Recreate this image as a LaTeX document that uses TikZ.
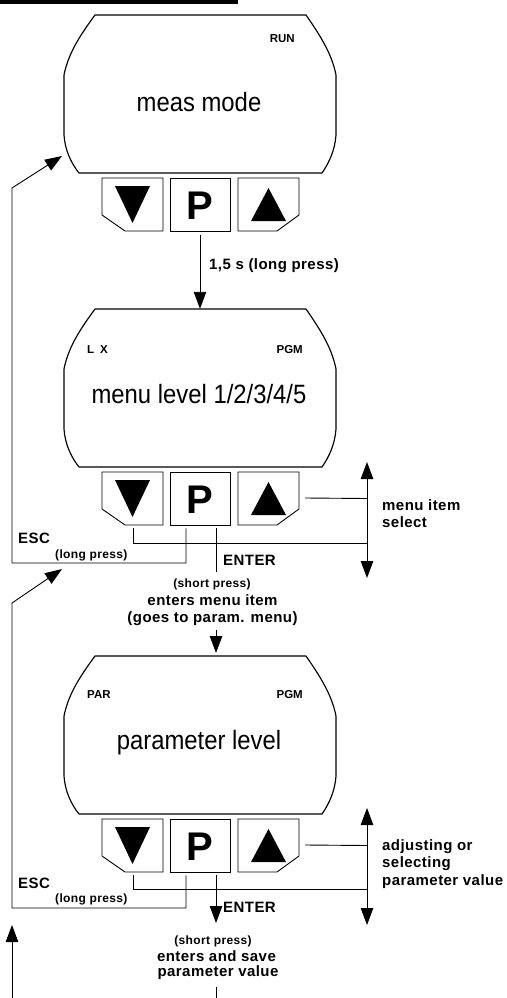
\documentclass[tikz,border=0pt]{standalone}
\usepackage{fontspec}
\setmainfont{Liberation Sans}
\newfontfamily\lblfam[LetterSpace=3]{Liberation Sans}
\newfontfamily\narrowfam[FakeStretch=0.9]{Liberation Sans}
\usetikzlibrary{arrows.meta,calc}
\tikzset{
  ln/.style={line width=0.9pt},
  tipA/.tip={Triangle[length=17pt,width=12.5pt]},
  arr/.style={ln,-tipA},
  dbl/.style={ln,tipA-tipA},
  disp/.style={line width=1.15pt,line join=round},
  btnbox/.style={draw=none,inner sep=0pt,minimum width=61pt,minimum height=53pt},
  bigtxt/.style={font=\narrowfam\fontsize{26.5}{28}\selectfont,anchor=base,inner sep=0pt},
  tag/.style={font=\fontsize{11.5}{13}\selectfont\bfseries,inner sep=0pt},
  lbl/.style={font=\lblfam\fontsize{15}{17.5}\selectfont\bfseries,inner sep=0pt},
  sml/.style={font=\lblfam\fontsize{12}{14}\selectfont\bfseries,inner sep=0pt},
  pkey/.style={font=\fontsize{40}{40}\selectfont\bfseries,inner sep=0pt},
}
\newcommand\dunit[4]{% #1 prefix, #2 vertical offset, #3 main text, #4 main baseline
\begin{scope}[shift={(0,#2)}]
  \node[draw=none,inner sep=0pt,minimum width=272pt,minimum height=158pt] (#1box) at (200,94) {};
  \draw[disp] (95,15) .. controls (78,38) and (68,55) .. (64,75) -- (64,135)
     .. controls (65,150) and (71,163) .. (79,173) -- (322,173)
     .. controls (329,163) and (335,150) .. (336,135) -- (336,75)
     .. controls (332,55) and (322,38) .. (306,15) -- cycle;
  \node[bigtxt] (#1main) at (199,#4) {#3};
  \node[btnbox] (#1dn) at (132.5,204.5) {};
  \node[btnbox,draw,ln,minimum width=60pt] (#1p) at (200,204.5) {};
  \node[btnbox] (#1up) at (268.5,204.5) {};
  \draw[ln] (102,178) -- (163,178) -- (163,231) -- (125,231) -- (102,215) -- cycle;
  \draw[ln] (238,178) -- (299,178) -- (299,215) -- (277,231) -- (238,231) -- cycle;
  \fill (115,186) -- (150,186) -- (132.5,223) -- cycle;
  \fill (251,221) -- (286,221) -- (268.5,188) -- cycle;
  \node[pkey] (#1pl) at (200,205.5) {P};
\end{scope}}
\begin{document}
\begin{tikzpicture}[x=1pt,y=-1pt]
\useasboundingbox (0,0) rectangle (506,998);
\fill (0,0) rectangle (238,4);

% three display units
\dunit{a}{0}{meas mode}{111}
\dunit{b}{294}{menu level 1/2/3/4/5}{109}
\dunit{c}{641}{parameter level}{108}

% tags
\node[tag,anchor=base east] (arun) at (295,43) {RUN};
\node[tag,anchor=base west] (blx) at (87,353) {L\hspace{6pt}X};
\node[tag,anchor=base east] (bpgm) at (303,353) {PGM};
\node[tag,anchor=base west] (cpar) at (87,698) {PAR};
\node[tag,anchor=base east] (cpgm) at (303,698) {PGM};

% meas -> menu
\draw[arr] ($(ap.south)+(0,4)$) -- (bbox.north);
\node[lbl,anchor=west] (along) at (209,266) {1,5 s (long press)};

% ---- menu level connectors
\coordinate (bvt) at (367,462);
\coordinate (bvb) at (367,578);
\draw[dbl] (bvt) -- (bvb);
\draw[ln] ($(bup.east)+(6,-0.5)$) -- (bvt |- bup.east);
\draw[ln] ($(bdn.south)+(0.5,3)$) -- (133,543) -- (bvt |- 0,543);
\coordinate (aesc) at (62,156);
\draw[arr] ($(bp.south)+(-14,3)$) -- (186,563) -- (12,563) -- (12,188) -- (aesc);
\draw[ln] ($(bp.south)+(16,3)$) -- (216,572);
\node[lbl,anchor=west] (bsel) at (382,515.5) {\begin{tabular}{@{}l@{}}menu item\\select\end{tabular}};
\node[lbl,anchor=west] (besc) at (18,538) {ESC};
\node[sml,anchor=west] (blp) at (55,555) {(long press)};
\node[lbl,anchor=west] (benter) at (223,560) {ENTER};
\node[sml] (bsp) at (212,584) {(short press)};
\node[lbl] (bent1) at (212.5,600) {enters menu item};
\node[lbl] (bent2) at (212.5,619) {(goes to param. menu)};
\coordinate (bgo) at (216,630);
\draw[arr] (bgo) -- (bgo |- 0,653);

% ---- parameter level connectors
\coordinate (cvt) at (367,808);
\coordinate (cvb) at (367,925);
\draw[dbl] (cvt) -- (cvb);
\draw[ln] ($(cup.east)+(6,-0.5)$) -- (cvt |- cup.east);
\draw[ln] ($(cdn.south)+(0.5,3)$) -- (133,889) -- (cvt |- 0,889);
\coordinate (besc2) at (62,569);
\draw[arr] ($(cp.south)+(-14,3)$) -- (186,908) -- (12,908) -- (12,603) -- (besc2);
\draw[arr] ($(cp.south)+(16,3)$) -- (216,923);
\node[lbl,anchor=west] (csel) at (382,864) {\begin{tabular}{@{}l@{}}adjusting or\\selecting\\parameter value\end{tabular}};
\node[lbl,anchor=west] (cesc) at (18,883) {ESC};
\node[sml,anchor=west] (clp) at (55,899) {(long press)};
\node[lbl,anchor=west] (center) at (223,907) {ENTER};
\node[sml] (csp) at (213,941) {(short press)};
\node[lbl] (cent1) at (216.5,956) {enters and save};
\node[lbl] (cent2) at (218,973) {parameter value};
\coordinate (cgo) at (216,987);
\coordinate (cend) at (216,998);
\draw[ln] (cgo) -- (cend);
\coordinate (bot) at (12,998);
\coordinate (bottip) at (12,925);
\draw[arr] (bot) -- (bottip);
\end{tikzpicture}
\end{document}
